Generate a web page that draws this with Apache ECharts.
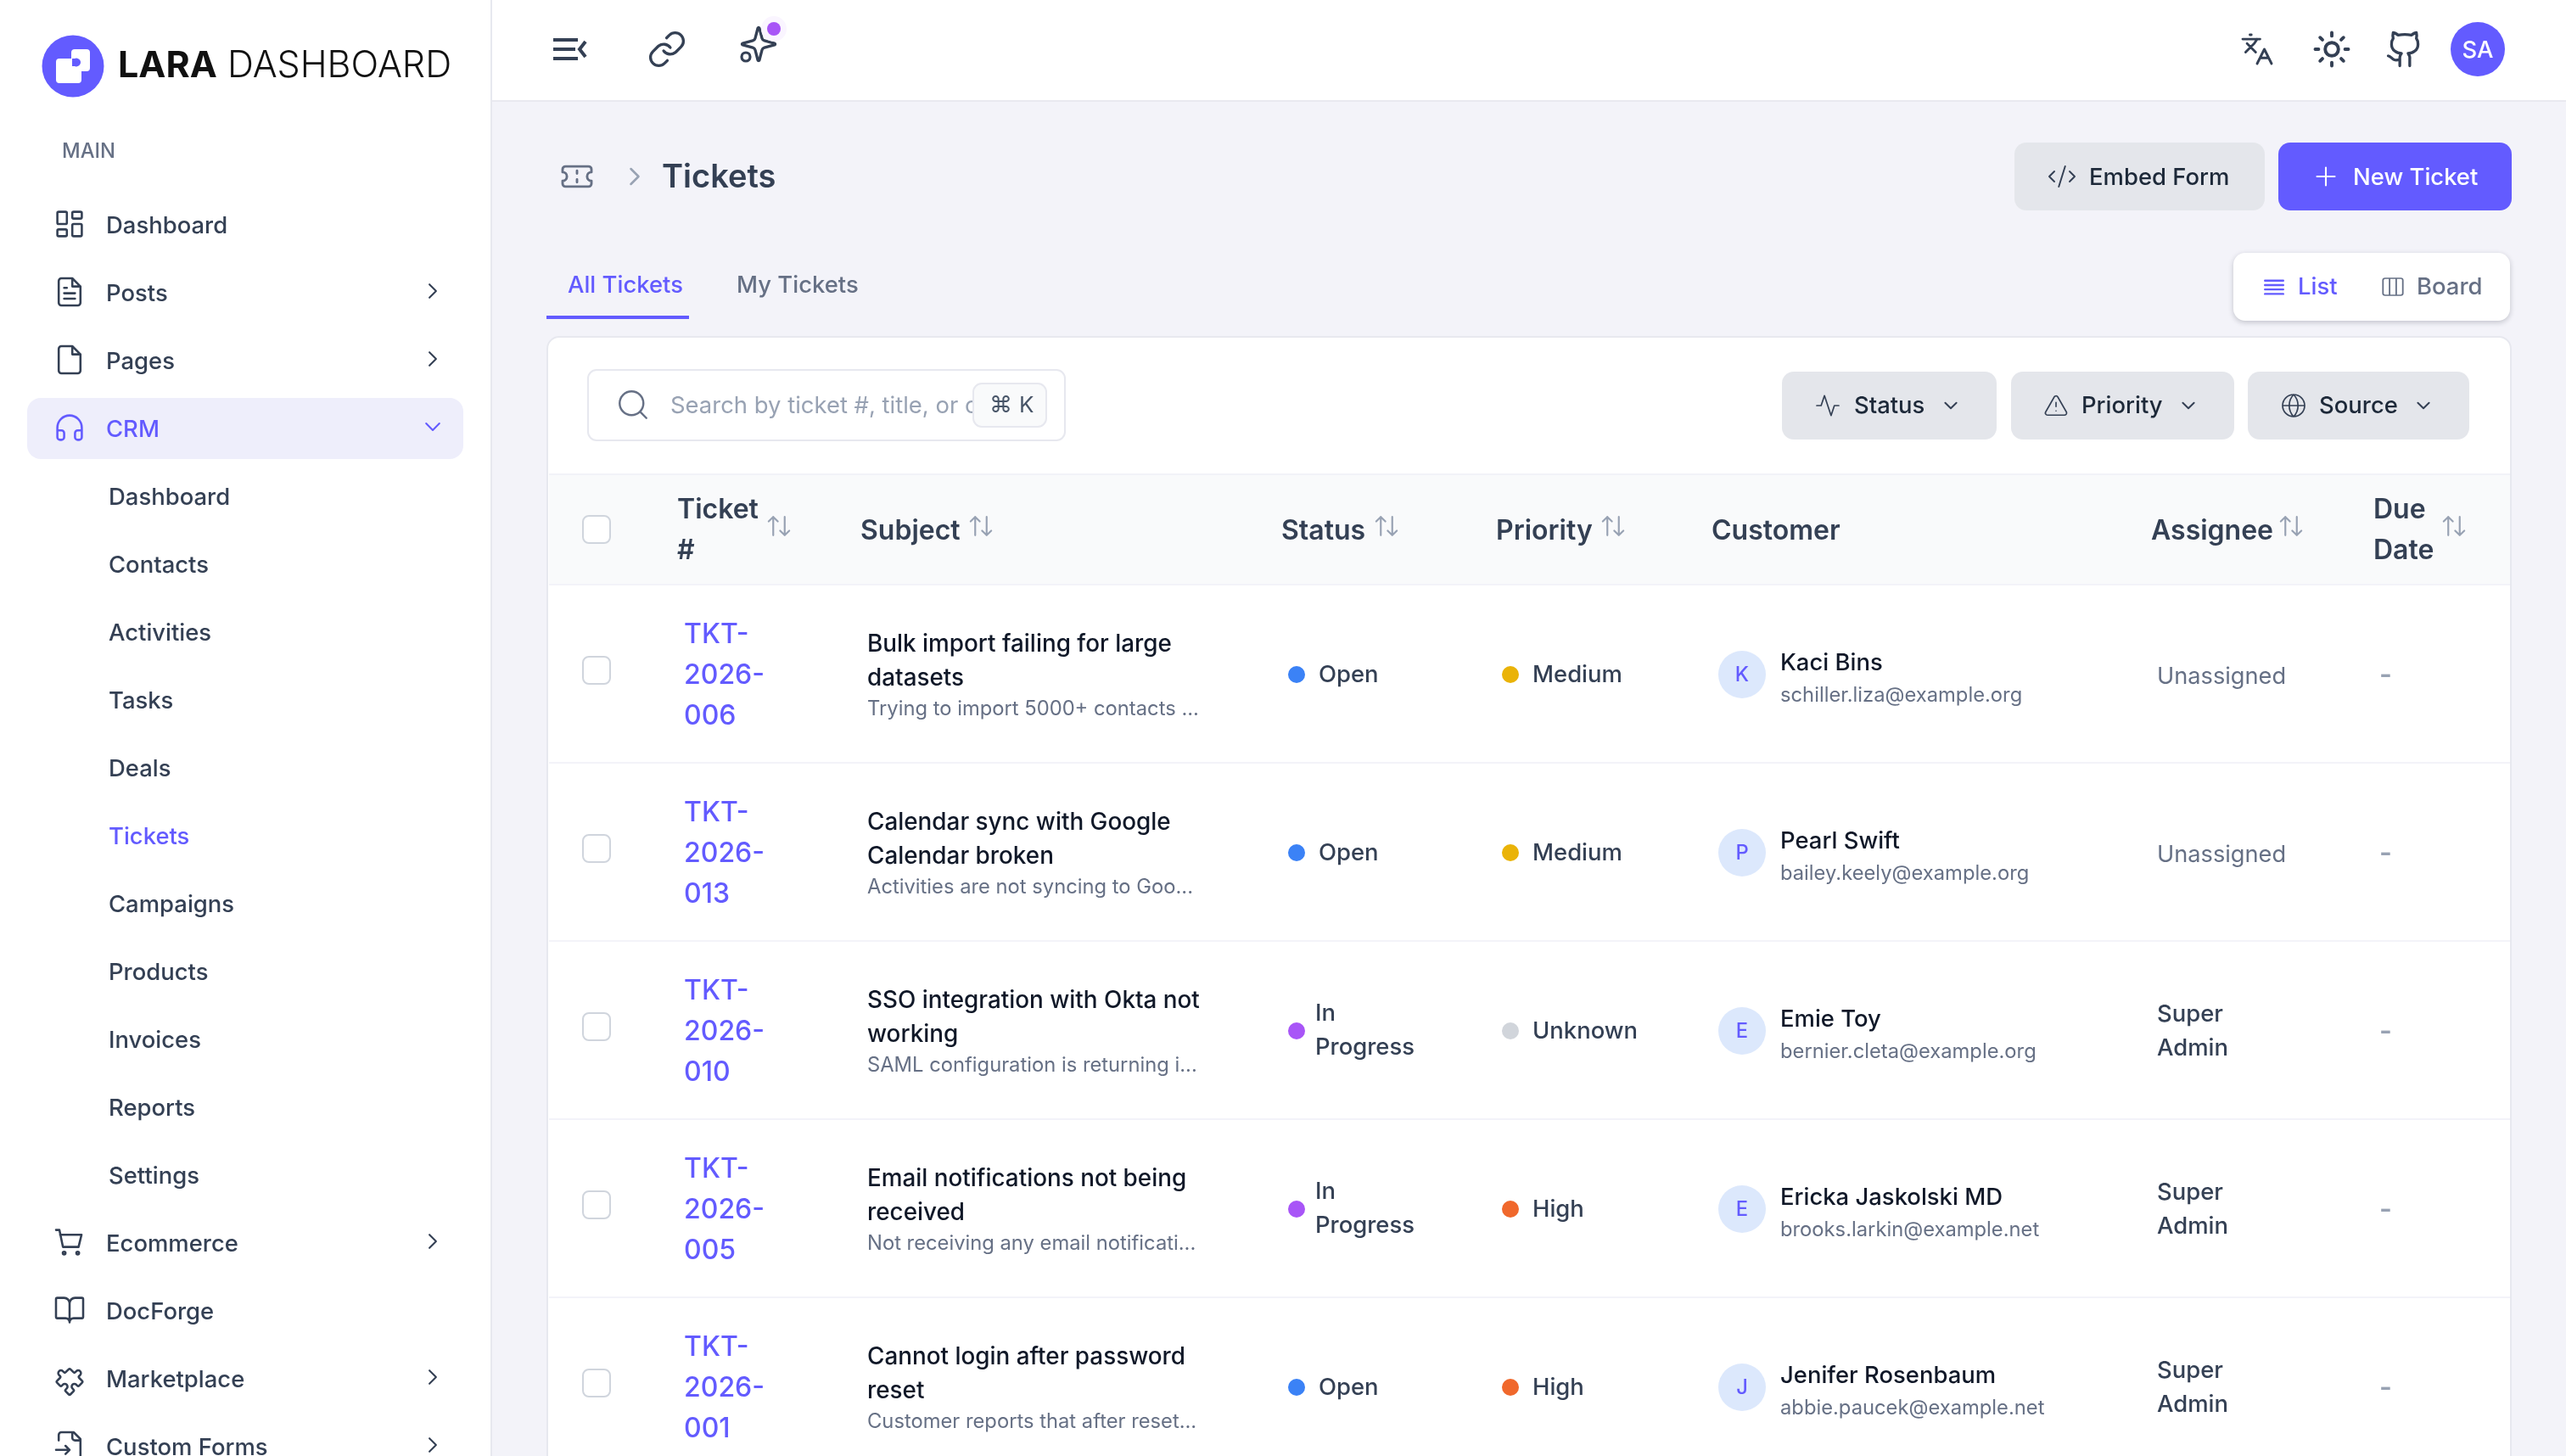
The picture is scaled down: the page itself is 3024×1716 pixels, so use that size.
<!DOCTYPE html>
<html>
<head>
<meta charset="utf-8">
<title>Tickets</title>
<style>
html, body { margin: 0; padding: 0; background: #f3f3f9; overflow: hidden; }
#main { width: 3024px; height: 1716px; }
</style>
</head>
<body>
<div id="main"></div>
<script src="https://cdn.jsdelivr.net/npm/echarts@6/dist/echarts.min.js"></script>
<script>
var navLabels = ['Dashboard', 'Posts', 'Pages', 'CRM', 'Dashboard', 'Contacts', 'Activities', 'Tasks', 'Deals', 'Tickets',
    'Campaigns', 'Products', 'Invoices', 'Reports', 'Settings', 'Ecommerce', 'DocForge', 'Marketplace', 'Custom Forms'];
var navIcons = ['dashboard', 'post', 'page', 'headphones', '', '', '', '', '', '', '', '', '', '', '', 'cart', 'book', 'puzzle', 'fileInput'];
var navArrows = ['', 'right', 'right', 'down', '', '', '', '', '', '', '', '', '', '', '', 'right', '', 'right', 'right'];

var tableHeads = ['Subject', 'Status', 'Priority', 'Customer', 'Assignee'];
var ticketLines = [['TKT-', '2026-', '006'], ['TKT-', '2026-', '013'], ['TKT-', '2026-', '010'], ['TKT-', '2026-', '005'], ['TKT-', '2026-', '001']];
var subjectLines = [
    ['Bulk import failing for large', 'datasets'],
    ['Calendar sync with Google', 'Calendar broken'],
    ['SSO integration with Okta not', 'working'],
    ['Email notifications not being', 'received'],
    ['Cannot login after password', 'reset']
];
var subjectDescs = ['Trying to import 5000+ contacts ...', 'Activities are not syncing to Goo...', 'SAML configuration is returning i...',
    'Not receiving any email notificati...', 'Customer reports that after reset...'];
var statuses = ['Open', 'Open', 'In Progress', 'In Progress', 'Open'];
var priorities = ['Medium', 'Medium', 'Unknown', 'High', 'High'];
var customerInitials = ['K', 'P', 'E', 'E', 'J'];
var customerNames = ['Kaci Bins', 'Pearl Swift', 'Emie Toy', 'Ericka Jaskolski MD', 'Jenifer Rosenbaum'];
var customerEmails = ['schiller.liza@example.org', 'bailey.keely@example.org', 'bernier.cleta@example.org', 'brooks.larkin@example.net', 'abbie.paucek@example.net'];
var assignees = ['Unassigned', 'Unassigned', 'Super Admin', 'Super Admin', 'Super Admin'];

var brand = '#635bff';
var textDark = '#101828';
var textMain = '#344054';
var textGray = '#667085';
var textLight = '#98a2b3';
var lineGray = '#e7e8ef';
var btnGray = '#e4e6eb';
var FONT = 'Inter, "DejaVu Sans", sans-serif';

var statusColors = { 'Open': '#3b82f6', 'In Progress': '#a855f7' };
var priorityColors = { 'Medium': '#eab308', 'Unknown': '#d1d5db', 'High': '#f0682c' };

// the installed Inter runs a little wider than the one in the screenshot
var fontFit = { 28: 0.98, 24: 0.99 };

// 24x24 stroke icons
var iconPaths = {
    dashboard: 'M4 3h5a1 1 0 0 1 1 1v7a1 1 0 0 1-1 1H4a1 1 0 0 1-1-1V4a1 1 0 0 1 1-1z M15 3h5a1 1 0 0 1 1 1v3a1 1 0 0 1-1 1h-5a1 1 0 0 1-1-1V4a1 1 0 0 1 1-1z M15 12h5a1 1 0 0 1 1 1v7a1 1 0 0 1-1 1h-5a1 1 0 0 1-1-1v-7a1 1 0 0 1 1-1z M4 16h5a1 1 0 0 1 1 1v3a1 1 0 0 1-1 1H4a1 1 0 0 1-1-1v-3a1 1 0 0 1 1-1z',
    post: 'M14 2H6a2 2 0 0 0-2 2v16a2 2 0 0 0 2 2h12a2 2 0 0 0 2-2V8z M14 2v6h6 M16 13H8 M16 17H8 M10 9H8',
    page: 'M14 2H6a2 2 0 0 0-2 2v16a2 2 0 0 0 2 2h12a2 2 0 0 0 2-2V8z M14 2v6h6',
    headphones: 'M3 14h3a2 2 0 0 1 2 2v3a2 2 0 0 1-2 2H5a2 2 0 0 1-2-2v-7a9 9 0 0 1 18 0v7a2 2 0 0 1-2 2h-1a2 2 0 0 1-2-2v-3a2 2 0 0 1 2-2h3',
    cart: 'M2 3h2.5l2.6 12.5h11.5l2.2-9H5 M9 20a1 1 0 1 0-2 0a1 1 0 1 0 2 0 M19 20a1 1 0 1 0-2 0a1 1 0 1 0 2 0',
    book: 'M12 7v14 M3 18a1 1 0 0 1-1-1V4a1 1 0 0 1 1-1h5a4 4 0 0 1 4 4a4 4 0 0 1 4-4h5a1 1 0 0 1 1 1v13a1 1 0 0 1-1 1h-6a3 3 0 0 0-3 3a3 3 0 0 0-3-3z',
    puzzle: 'M4 7h3a1 1 0 0 0 1-1v-1a2 2 0 0 1 4 0v1a1 1 0 0 0 1 1h3a1 1 0 0 1 1 1v3a1 1 0 0 0 1 1h1a2 2 0 0 1 0 4h-1a1 1 0 0 0-1 1v3a1 1 0 0 1-1 1h-3a1 1 0 0 1-1-1v-1a2 2 0 0 0-4 0v1a1 1 0 0 1-1 1h-3a1 1 0 0 1-1-1v-3a1 1 0 0 1 1-1h1a2 2 0 0 0 0-4h-1a1 1 0 0 1-1-1v-3a1 1 0 0 1 1-1',
    fileInput: 'M4 22h14a2 2 0 0 0 2-2V7l-5-5H6a2 2 0 0 0-2 2v4 M14 2v4a2 2 0 0 0 2 2h4 M2 15h10 M9 18l3-3l-3-3',
    right: 'M9 6l6 6l-6 6',
    down: 'M6 9l6 6l6-6',
    link: 'M10 13a5 5 0 0 0 7.54.54l3-3a5 5 0 0 0-7.07-7.07l-1.72 1.71 M14 11a5 5 0 0 0-7.54-.54l-3 3a5 5 0 0 0 7.07 7.07l1.71-1.71',
    sparkle: 'M9.937 15.5A2 2 0 0 0 8.5 14.063l-6.135-1.582a.5.5 0 0 1 0-.962L8.5 9.936A2 2 0 0 0 9.937 8.5l1.582-6.135a.5.5 0 0 1 .963 0L14.063 8.5A2 2 0 0 0 15.5 9.937l6.135 1.581a.5.5 0 0 1 0 .964L15.5 14.063a2 2 0 0 0-1.437 1.437l-1.582 6.135a.5.5 0 0 1-.963 0z',
    ticket: 'M2 9a3 3 0 0 1 0 6v2a2 2 0 0 0 2 2h16a2 2 0 0 0 2-2v-2a3 3 0 0 1 0-6V7a2 2 0 0 0-2-2H4a2 2 0 0 0-2 2z M12 8v2 M12 14v2',
    languages: 'M5 8l6 6 M4 14l6-6l2-3 M2 5h12 M7 2h1 M22 22l-5-10l-5 10 M14 18h6',
    sun: 'M12 8a4 4 0 1 0 0 8a4 4 0 1 0 0-8 M12 2v2 M12 20v2 M4.93 4.93l1.41 1.41 M17.66 17.66l1.41 1.41 M2 12h2 M20 12h2 M6.34 17.66l-1.41 1.41 M19.07 4.93l-1.41 1.41',
    github: 'M15 22v-4a4.8 4.8 0 0 0-1-3.5c3 0 6-2 6-5.5c.08-1.25-.27-2.48-1-3.5c.28-1.15.28-2.35 0-3.5c0 0-1 0-3 1.5c-2.64-.5-5.36-.5-8 0C6 2 5 2 5 2c-.3 1.15-.3 2.35 0 3.5A5.403 5.403 0 0 0 4 9c0 3.5 3 5.5 6 5.5c-.39.49-.68 1.05-.85 1.65S8.93 17.38 9 18v4 M9 18c-4.51 2-5-2-7-2',
    code: 'M18 16l4-4l-4-4 M6 8l-4 4l4 4 M14.5 4l-5 16',
    plus: 'M5 12h14 M12 5v14',
    activity: 'M22 12h-4l-3 9L9 3l-3 9H2',
    alert: 'M21.73 18l-8-14a2 2 0 0 0-3.48 0l-8 14A2 2 0 0 0 4 21h16a2 2 0 0 0 1.73-3 M12 9v4 M12 17h.01',
    globe: 'M12 2a10 10 0 1 0 0 20a10 10 0 1 0 0-20 M12 2a14.5 14.5 0 0 0 0 20a14.5 14.5 0 0 0 0-20 M2 12h20',
    list: 'M3 6h18 M3 10.3h18 M3 14.6h18 M3 19h18',
    columns: 'M5 3h14a2 2 0 0 1 2 2v14a2 2 0 0 1-2 2H5a2 2 0 0 1-2-2V5a2 2 0 0 1 2-2z M9 3v18 M15 3v18',
    search: 'M11 3a8 8 0 1 0 0 16a8 8 0 1 0 0-16 M21 21l-4.3-4.3',
    sort: 'M21 16l-4 4l-4-4 M17 20V4 M3 8l4-4l4 4 M7 4v16',
    logoNotch: 'M85 69h3a5 5 0 0 1 7 5a5 5 0 0 1-7 4h-3z',
    dotRing: 'M12 7a5 5 0 1 0 0 10a5 5 0 1 0 0-10'
};
// the graphic component has no plain path type, so each icon is registered as a shape
Object.keys(iconPaths).forEach(function (name) {
    echarts.graphic.registerShape('icon_' + name, echarts.graphic.extendPath(iconPaths[name]));
});

var els = [];

function rect(x, y, w, h, fill, r, stroke, lineWidth, extra) {
    var style = { fill: fill, stroke: stroke || null, lineWidth: lineWidth || 0 };
    for (var k in (extra || {})) style[k] = extra[k];
    els.push({ type: 'rect', silent: true, shape: { x: x, y: y, width: w, height: h, r: r || 0 }, style: style });
}
function circle(cx, cy, r, fill) {
    els.push({ type: 'circle', silent: true, shape: { cx: cx, cy: cy, r: r }, style: { fill: fill } });
}
function label(str, x, y, size, weight, color, align) {
    els.push({
        type: 'text', silent: true,
        style: { text: str, x: x, y: y + 2, fontSize: size * (fontFit[size] || 1), fontWeight: weight, fontFamily: FONT, fill: color, align: align || 'left', verticalAlign: 'middle' }
    });
}
function icon(name, cx, cy, scale, color, lw, rotation, scaleY) {
    els.push({
        type: 'icon_' + name, silent: true,
        originX: 12, originY: 12,
        x: cx - 12, y: cy - 12,
        scaleX: scale, scaleY: scaleY || scale,
        rotation: rotation || 0,
        style: { fill: 'none', stroke: color, lineWidth: lw || 1.6, lineCap: 'round', lineJoin: 'round' }
    });
}
function line(x1, y1, x2, y2, color, w) {
    els.push({ type: 'line', silent: true, shape: { x1: x1, y1: y1, x2: x2, y2: y2 }, style: { stroke: color, lineWidth: w } });
}

// sidebar
rect(0, 0, 578, 1716, '#ffffff');
rect(578, 0, 2, 1716, lineGray);
circle(86, 78, 36.5, brand);
rect(66, 69, 30, 29, '#ffffff', 4);
rect(84, 58, 22, 26, '#ffffff', 4);
els.push({ type: 'icon_logoNotch', silent: true, style: { fill: brand } });
label('LARA', 139, 76, 43, 700, '#111111');
label('DASHBOARD', 268, 76, 43, 300, '#111111');
label('MAIN', 73, 177, 24, 500, textGray);

rect(32, 469, 514, 72, '#eeeefb', 16);
navLabels.forEach(function (name, i) {
    var y = 264 + 80 * i;
    var active = name === 'CRM' || (name === 'Tickets' && i === 9);
    var color = active ? brand : textMain;
    label(name, navIcons[i] ? 125 : 128, y + 1, 28, 500, color);
    if (navIcons[i]) icon(navIcons[i], 82, y, 1.6, color, 1.6, navIcons[i] === 'puzzle' ? Math.PI / 4 : 0);
    if (navArrows[i]) icon(navArrows[i], 510, y - 1, 1.3, color, 1.6);
});

// top bar
rect(580, 0, 2444, 118, '#ffffff');
rect(580, 118, 2444, 2, '#e9e9f0');
line(652, 47, 681, 47, textMain, 4);
line(652, 58, 678, 58, textMain, 4);
line(652, 69, 681, 69, textMain, 4);
els.push({ type: 'polyline', silent: true, shape: { points: [[690, 49], [683, 58], [690, 67]] }, style: { fill: 'none', stroke: textMain, lineWidth: 4 } });
icon('link', 786, 58, 1.95, textMain, 1.7);
icon('sparkle', 894, 52, 1.95, textMain, 1.7);
icon('dotRing', 879, 67, 1, textMain, 3.2);
circle(912, 34, 15, '#faf5ff');
circle(912, 34, 8, '#a855f7');
icon('languages', 2660, 58, 1.7, textMain, 1.7);
icon('sun', 2748, 58, 1.95, textMain, 2);
icon('github', 2834, 58, 1.95, textMain, 1.7);
circle(2920, 58, 32, brand);
label('SA', 2920, 58, 28, 500, '#ffffff', 'center');

// breadcrumb and actions
icon('ticket', 680, 208, 1.7, textGray, 1.7);
icon('right', 748, 208, 1.5, textLight, 1.7);
label('Tickets', 780, 208, 38, 600, textMain);

rect(2374, 168, 295, 80, btnGray, 14);
icon('code', 2430, 208, 1.5, textMain, 1.3);
label('Embed Form', 2462, 208, 28, 500, '#1d2939');
rect(2685, 168, 275, 80, brand, 14);
icon('plus', 2741, 208, 1.5, '#ffffff', 1.4);
label('New Ticket', 2773, 208, 28, 500, '#ffffff');

// tabs
label('All Tickets', 669, 335, 28, 500, brand);
label('My Tickets', 868, 335, 28, 500, textGray);
rect(644, 372, 168, 4, brand);
rect(2632, 298, 326, 80, '#ffffff', 14, null, 0, { shadowBlur: 6, shadowOffsetY: 2, shadowColor: 'rgba(16,24,40,0.22)' });
icon('list', 2680, 338, 1.2, brand, 2);
label('List', 2708, 337, 28, 500, brand);
icon('columns', 2820, 338, 1.3, textGray, 1.4, 0, 1.1);
label('Board', 2848, 337, 28, 500, textGray);

// card and filter row
rect(645, 397, 2314, 1400, '#ffffff', 14, lineGray, 2);
rect(693, 436, 562, 83, '#ffffff', 10, lineGray, 2);
icon('search', 746, 477, 1.75, textGray, 1.4);
label('Search by ticket #, title, or c', 790, 477, 28, 400, textLight);
rect(1147, 452, 86, 51, '#f9fafb', 10, lineGray, 2);
label('⌘', 1166, 476, 27, 400, '#475467');
label('K', 1201, 476, 26, 400, '#475467');

rect(2100, 438, 253, 80, btnGray, 14);
icon('activity', 2154, 478, 1.3, textMain, 1.3);
label('Status', 2185, 477, 28, 500, '#1d2939');
icon('down', 2299, 478, 1.1, textMain, 1.8);
rect(2370, 438, 263, 80, btnGray, 14);
icon('alert', 2423, 478, 1.25, textMain, 1.3);
label('Priority', 2453, 477, 28, 500, '#1d2939');
icon('down', 2579, 478, 1.1, textMain, 1.8);
rect(2649, 438, 261, 80, btnGray, 14);
icon('globe', 2703, 478, 1.3, textMain, 1.3);
label('Source', 2733, 477, 28, 500, '#1d2939');
icon('down', 2856, 478, 1.1, textMain, 1.8);

// table head
var headX = [1014, 1510, 1763, 2017, 2535];
var headSort = [1156, 1634, 1901, 0, 2700];
rect(647, 559, 2311, 129, '#f9fafb');
rect(647, 558, 2311, 2, '#f2f3f8');
rect(647, 688, 2311, 2, '#f3f3f9');
rect(687, 608, 32, 32, '#ffffff', 7, '#d0d5dd', 2);
label('Ticket', 798, 599, 32, 600, textMain);
label('#', 798, 647, 32, 600, textMain);
icon('sort', 918, 620, 1.35, textLight, 1.6);
tableHeads.forEach(function (name, i) {
    label(name, headX[i], 624, 32, 600, textMain);
    if (headSort[i]) icon('sort', headSort[i], 620, 1.35, textLight, 1.6);
});
label('Due', 2797, 599, 32, 600, textMain);
label('Date', 2797, 647, 32, 600, textMain);
icon('sort', 2892, 620, 1.35, textLight, 1.6);

// rows
ticketLines.forEach(function (lines, i) {
    var dy = 210 * i;
    if (i < ticketLines.length - 1) rect(647, 898 + dy, 2311, 2, '#f3f3f9');
    rect(687, 774 + dy, 32, 32, '#ffffff', 7, '#d0d5dd', 2);
    lines.forEach(function (s, j) {
        label(s, 806, 746 + dy + 48 * j, 32, 500, brand);
    });
    label(subjectLines[i][0], 1022, 758 + dy, 27.85, 500, textDark);
    label(subjectLines[i][1], 1022, 798 + dy, 27.85, 500, textDark);
    label(subjectDescs[i], 1022, 834 + dy, 24, 400, textGray);

    var st = statuses[i];
    circle(1528, 795 + dy, 10, statusColors[st]);
    if (st === 'In Progress') {
        label('In', 1550, 773 + dy, 28, 500, textMain);
        label('Progress', 1550, 813 + dy, 28, 500, textMain);
    } else {
        label(st, 1554, 794 + dy, 28, 500, textMain);
    }

    var pr = priorities[i];
    circle(1780, 795 + dy, 10, priorityColors[pr]);
    label(pr, 1806, 794 + dy, 28, 500, textMain);

    circle(2053, 795 + dy, 28, '#dce8fc');
    label(customerInitials[i], 2053, 794 + dy, 24, 500, brand, 'center');
    label(customerNames[i], 2098, 780 + dy, 28, 500, textDark);
    label(customerEmails[i], 2098, 818 + dy, 24, 400, textGray);

    if (assignees[i] === 'Unassigned') {
        label(assignees[i], 2542, 796 + dy, 27.2, 400, textGray);
    } else {
        var parts = assignees[i].split(' ');
        label(parts[0], 2542, 774 + dy, 28, 500, textMain);
        label(parts[1], 2542, 814 + dy, 28, 500, textMain);
    }
    label('-', 2804, 794 + dy, 32, 600, textLight);
});

var chart = echarts.init(document.getElementById('main'), null, { renderer: 'canvas', width: 3024, height: 1716 });
chart.setOption({
    backgroundColor: '#f3f3f9',
    animation: false,
    graphic: { elements: els }
});
</script>
</body>
</html>
